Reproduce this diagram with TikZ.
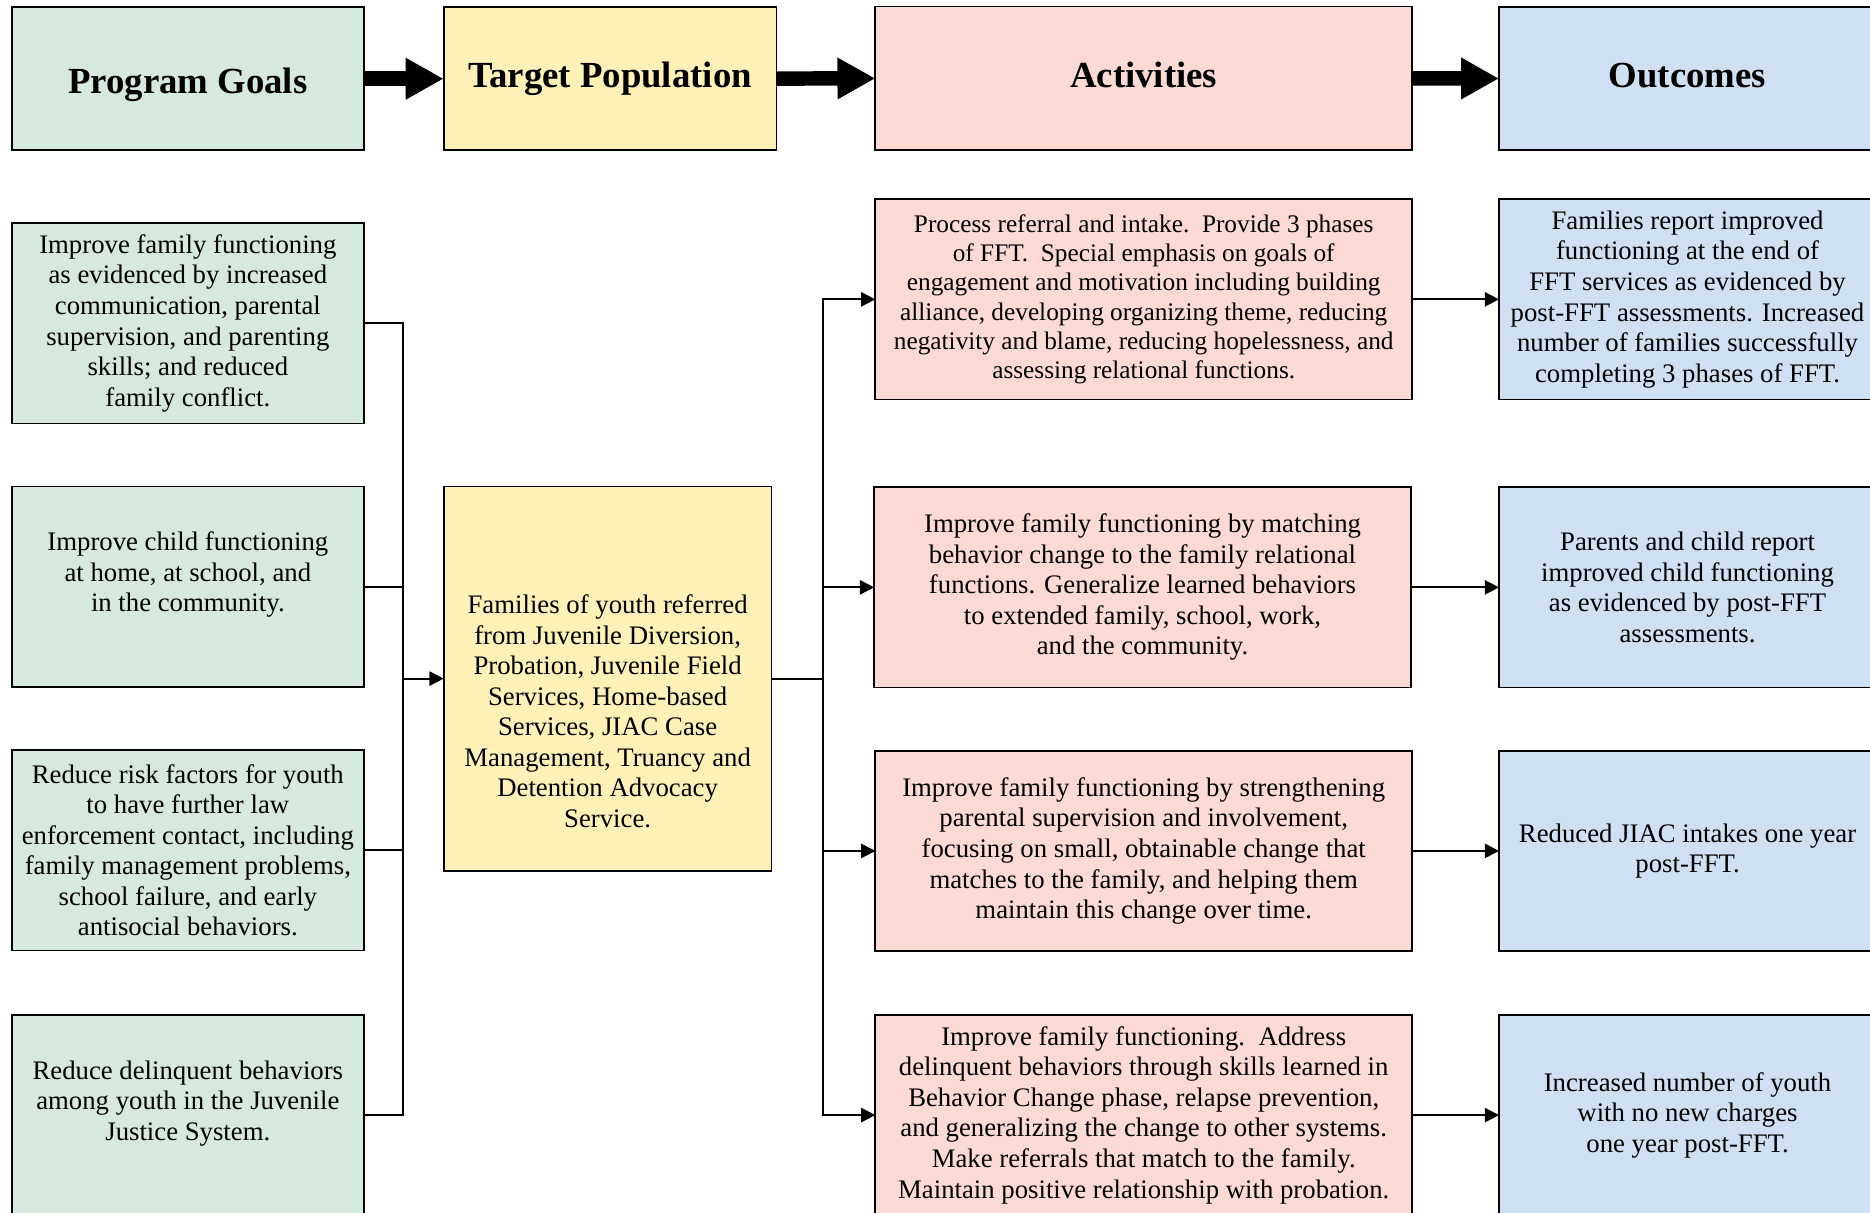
\documentclass[tikz,border=0pt]{standalone}
\usepackage{fontspec}
\setmainfont{Liberation Serif}
\usetikzlibrary{arrows.meta}

\definecolor{goalfill}{RGB}{213,233,222}
\definecolor{targetfill}{RGB}{253,241,183}
\definecolor{activityfill}{RGB}{250,218,210}
\definecolor{outcomefill}{RGB}{206,224,241}

\begin{document}
\begin{tikzpicture}[x=0.535pt,y=-0.535pt]
  \tikzset{BoxStyle/.style = {
    shape         = rectangle,
    draw          = black,
    line width    = 0.8pt,
    text          = black,
    inner sep     = 0pt,
    outer sep     = 0pt,
    align         = center,
    font          = \fontsize{12}{13.7}\selectfont
    }
  }
  \tikzset{HeadStyle/.style = {
    BoxStyle,
    minimum height = 64.2pt,
    text height    = 11.5pt,
    text depth     = 3.4pt,
    font           = \fontsize{16.5}{19}\selectfont\bfseries
    }
  }
  \tikzset{GoalStyle/.style = {
    BoxStyle, fill = goalfill,
    minimum width  = 157.8pt,
    minimum height = 89.9pt
    }
  }
  \tikzset{ActivityStyle/.style = {
    BoxStyle, fill = activityfill,
    minimum width  = 240.75pt,
    minimum height = 89.9pt
    }
  }
  \tikzset{OutcomeStyle/.style = {
    BoxStyle, fill = outcomefill,
    minimum width  = 169.1pt,
    minimum height = 89.9pt
    }
  }
  \tikzset{TextStyle/.style = {
    align         = center,
    inner sep     = 0pt,
    font          = \fontsize{12}{13.7}\selectfont
    }
  }
  \tikzset{FlowStyle/.style = {
    draw          = black,
    line width    = 6.5pt,
    -{Triangle[length=17pt,width=17.5pt]}
    }
  }
  \tikzset{LinkStyle/.style = {
    draw          = black,
    line width    = 0.8pt
    }
  }
  \tikzset{ArrowStyle/.style = {
    LinkStyle,
    -{Triangle[length=6.4pt,width=6.4pt]}
    }
  }

  \useasboundingbox (0,0) rectangle (1568,1017);

  % header row
  \node[HeadStyle, fill=goalfill, minimum width=157.8pt, text height=16.9pt](PG) at (157.5, 66) {Program Goals};
  \node[HeadStyle, fill=targetfill, minimum width=149.3pt](TP) at (511.5, 66) {Target Population};
  \node[HeadStyle, fill=activityfill, minimum width=240.75pt](AC) at (959, 65.5) {Activities};
  \node[HeadStyle, fill=outcomefill, minimum width=169.1pt](OC) at (1415, 66) {Outcomes};
  \draw[FlowStyle](PG) to (TP);
  \draw[FlowStyle](TP) to (AC);
  \draw[FlowStyle](AC) to (OC);

  % program goals
  \node[GoalStyle](G1) at (157.5, 271) {Improve family functioning\\as evidenced by increased\\communication, parental\\supervision, and parenting\\skills; and reduced\\family conflict.};
  \node[GoalStyle](G2) at (157.5, 492) {};
  \node[TextStyle](G2t) at (157.5, 482) {Improve child functioning\\at home, at school, and\\in the community.};
  \node[GoalStyle](G3) at (157.5, 713) {Reduce risk factors for youth\\to have further law\\enforcement contact, including\\family management problems,\\school failure, and early\\antisocial behaviors.};
  \node[GoalStyle](G4) at (157.5, 935) {};
  \node[TextStyle](G4t) at (157.5, 925) {Reduce delinquent behaviors\\among youth in the Juvenile\\Justice System.};

  % target population
  \node[BoxStyle, fill=targetfill, minimum width=147.1pt, minimum height=172.3pt](T) at (509.5, 569) {};
  \node[TextStyle](Tt) at (509.5, 596.5) {Families of youth referred\\from Juvenile Diversion,\\Probation, Juvenile Field\\Services, Home-based\\Services, JIAC Case\\Management, Truancy and\\Detention Advocacy\\Service.};

  % activities
  \node[ActivityStyle, font=\fontsize{11.35}{13.1}\selectfont](A1) at (959, 251) {Process referral and intake.\ \ Provide 3 phases\\of FFT.\ \ Special emphasis on goals of\\engagement and motivation including building\\alliance, developing organizing theme, reducing\\negativity and blame, reducing hopelessness, and\\assessing relational functions.};
  \node[ActivityStyle](A2) at (958, 492.5) {Improve family functioning by matching\\behavior change to the family relational\\functions. Generalize learned behaviors\\to extended family, school, work,\\and the community.};
  \node[ActivityStyle](A3) at (959, 713.5) {Improve family functioning by strengthening\\parental supervision and involvement,\\focusing on small, obtainable change that\\matches to the family, and helping them\\maintain this change over time.};
  \node[ActivityStyle](A4) at (959, 935) {Improve family functioning.\ \ Address\\delinquent behaviors through skills learned in\\Behavior Change phase, relapse prevention,\\and generalizing the change to other systems.\\Make referrals that match to the family.\\Maintain positive relationship with probation.};

  % outcomes
  \node[OutcomeStyle](O1) at (1415, 251) {Families report improved\\functioning at the end of\\FFT services as evidenced by\\post-FFT assessments. Increased\\number of families successfully\\completing 3 phases of FFT.};
  \node[OutcomeStyle](O2) at (1415, 492.5) {Parents and child report\\improved child functioning\\as evidenced by post-FFT\\assessments.};
  \node[OutcomeStyle](O3) at (1415, 713.5) {Reduced JIAC intakes one year\\post-FFT.};
  \node[OutcomeStyle](O4) at (1415, 935) {Increased number of youth\\with no new charges\\one year post-FFT.};

  % connectors
  \coordinate (LB) at (338, 569);
  \coordinate (RB) at (690, 569);
  \draw[LinkStyle](G1.east) -| (LB);
  \draw[LinkStyle](G4.east) -| (LB);
  \draw[LinkStyle](G2.east) -- (G2.east -| LB);
  \draw[LinkStyle](G3.east) -- (G3.east -| LB);
  \draw[ArrowStyle](LB) -- (T.west);
  \draw[LinkStyle](T.east) -- (RB);
  \draw[ArrowStyle](RB) |- (A1.west);
  \draw[ArrowStyle](RB) |- (A2.west);
  \draw[ArrowStyle](RB) |- (A3.west);
  \draw[ArrowStyle](RB) |- (A4.west);
  \draw[ArrowStyle](A1) -- (O1);
  \draw[ArrowStyle](A2) -- (O2);
  \draw[ArrowStyle](A3) -- (O3);
  \draw[ArrowStyle](A4) -- (O4);

\end{tikzpicture}
\end{document}
